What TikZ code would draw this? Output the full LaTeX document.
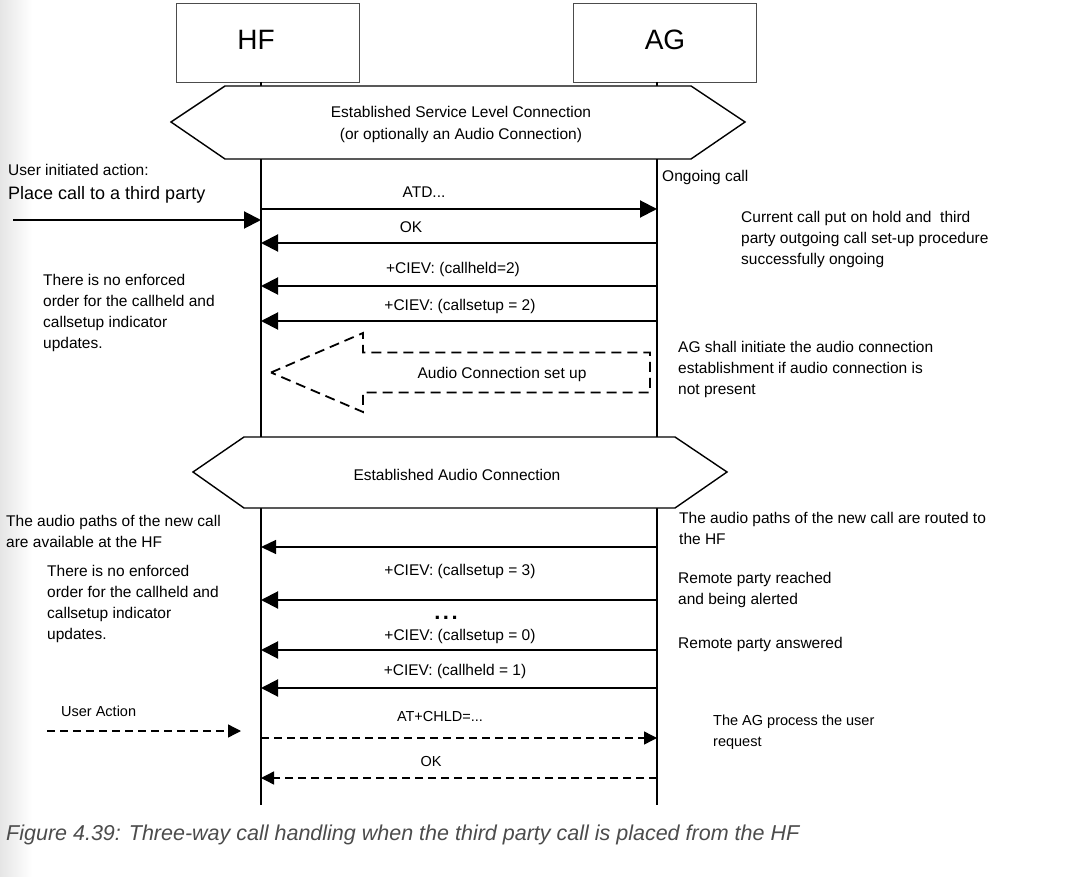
\documentclass[tikz,border=0pt]{standalone}
\usepackage{fontspec}
\setmainfont{Liberation Sans}
\usetikzlibrary{arrows.meta}
\begin{document}
\begin{tikzpicture}[x=1pt,y=-1pt,
  basefont/.style={font=\fontsize{15.5}{21}\selectfont, inner sep=0pt},
  note/.style={basefont, align=left, anchor=north west},
  smallnote/.style={note, font=\fontsize{14.5}{21}\selectfont},
  msglbl/.style={basefont, anchor=base},
  smalllbl/.style={msglbl, font=\fontsize{14.5}{18}\selectfont},
  actorbox/.style={draw=black!70, line width=0.9pt, minimum width=183pt, minimum height=79pt, inner sep=0pt},
  actortxt/.style={font=\fontsize{28}{32}\selectfont, inner sep=0pt, anchor=base},
  life/.style={line width=2.2pt},
  msg/.style={line width=2pt, -{Triangle[length=17pt,width=17pt]}},
  thinmsg/.style={line width=1.3pt, -{Triangle[length=15pt,width=14pt]}},
  dmsg/.style={line width=1.4pt, dash pattern=on 8pt off 5pt, -{Triangle[length=13pt,width=13pt]}},
  hexa/.style={draw, line width=1.4pt, fill=white, line join=miter},
  blockarrow/.style={line width=1.8pt, dash pattern=on 10pt off 6pt},
]
\useasboundingbox (0,0) rectangle (1087,877);
\fill[white] (0,0) rectangle (1087,877);
\shade[left color=black!10, right color=white] (0,0) rectangle (32,877);

% actors
\node[actorbox] (hfbox) at (267.5,42.5) {};
\node[actorbox] (agbox) at (664.5,42.5) {};
\node[actortxt] (hft) at (256,50) {HF};
\node[actortxt] (agt) at (665,50) {AG};

% lifelines
\coordinate (hfT) at (261,82);
\coordinate (hfB) at (261,805);
\coordinate (agT) at (657,82);
\coordinate (agB) at (657,805);
\draw[life] (hfT) -- (hfB);
\draw[life] (agT) -- (agB);

% hexagon 1
\coordinate (x1a) at (171,122);
\coordinate (x1b) at (225,86);
\coordinate (x1c) at (691,86);
\coordinate (x1d) at (745,122);
\coordinate (x1e) at (691,159);
\coordinate (x1f) at (225,159);
\draw[hexa] (x1a) -- (x1b) -- (x1c) -- (x1d) -- (x1e) -- (x1f) -- cycle;
\node[msglbl] (slc1) at (461,117.5) {Established Service Level Connection};
\node[msglbl] (slc2) at (461,139.5) {(or optionally an Audio Connection)};

% hexagon 2
\coordinate (x2a) at (193,472);
\coordinate (x2b) at (244,437);
\coordinate (x2c) at (675,437);
\coordinate (x2d) at (727,472);
\coordinate (x2e) at (675,508);
\coordinate (x2f) at (244,508);
\draw[hexa] (x2a) -- (x2b) -- (x2c) -- (x2d) -- (x2e) -- (x2f) -- cycle;
\node[msglbl] (eac) at (457,480.5) {Established Audio Connection};

% section 1 notes
\node[note] (ui) at (8,164.5) {User initiated action:};
\node[note, font=\fontsize{18}{22}\selectfont] (place) at (8,186.5) {Place call to a third party};
\node[note] (order1) at (43,274.5) {There is no enforced\\order for the callheld and\\callsetup indicator\\updates.};
\node[note] (ongoing) at (662,170.5) {Ongoing call};
\node[note] (hold) at (741,211.5) {Current call put on hold and~~third\\party outgoing call set-up procedure\\successfully ongoing};
\node[note] (agshall) at (678,341.5) {AG shall initiate the audio connection\\establishment if audio connection is\\not present};

% section 1 messages
\coordinate (in0) at (13,220);
\coordinate (hin) at (261,220);
\draw[msg] (in0) -- (hin);

\coordinate (h1) at (261,209); \coordinate (a1) at (657,209);
\node[msglbl] (l1) at (424,197.5) {ATD...};
\draw[msg] (h1) -- (a1);

\coordinate (h2) at (261,243); \coordinate (a2) at (657,243);
\node[msglbl] (l2) at (411,232.5) {OK};
\draw[msg] (a2) -- (h2);

\coordinate (h3) at (261,286); \coordinate (a3) at (657,286);
\node[msglbl] (l3) at (453,273.5) {+CIEV: (callheld=2)};
\draw[msg] (a3) -- (h3);

\coordinate (h4) at (261,321); \coordinate (a4) at (657,321);
\node[msglbl] (l4) at (460,310.5) {+CIEV: (callsetup = 2)};
\draw[msg] (a4) -- (h4);

% audio connection block arrow
\coordinate (ba1) at (271,372.5);
\coordinate (ba2) at (363,333);
\coordinate (ba3) at (363,352.5);
\coordinate (ba4) at (650,352.5);
\coordinate (ba5) at (650,392.5);
\coordinate (ba6) at (363,392.5);
\coordinate (ba7) at (363,412);
\draw[blockarrow] (ba1) -- (ba2) -- (ba3) -- (ba4) -- (ba5) -- (ba6) -- (ba7) -- cycle;
\node[msglbl] (acs) at (502,378.5) {Audio Connection set up};

% section 2 notes
\node[note] (paths) at (6,515) {The audio paths of the new call\\are available at the HF};
\node[note] (order2) at (47,565) {There is no enforced\\order for the callheld and\\callsetup indicator\\updates.};
\node[note] (routed) at (679,512) {The audio paths of the new call are routed to\\the HF};
\node[note] (reached) at (678,572) {Remote party reached\\and being alerted};
\node[note] (answered) at (678,637) {Remote party answered};

% section 2 messages
\coordinate (h5) at (261,547); \coordinate (a5) at (657,547);
\draw[thinmsg] (a5) -- (h5);

\coordinate (h6) at (261,600); \coordinate (a6) at (657,600);
\node[msglbl] (l6) at (460,575.5) {+CIEV: (callsetup = 3)};
\draw[msg] (a6) -- (h6);

\node[anchor=base, inner sep=0pt, font=\fontsize{22}{24}\selectfont\bfseries] (dots) at (446,619) {.\hspace{2.5pt}.\hspace{2.5pt}.};

\coordinate (h7) at (261,650); \coordinate (a7) at (657,650);
\node[msglbl] (l7) at (460,640.5) {+CIEV: (callsetup = 0)};
\draw[msg] (a7) -- (h7);

\coordinate (h8) at (261,688); \coordinate (a8) at (657,688);
\node[msglbl] (l8) at (455,675.5) {+CIEV: (callheld = 1)};
\draw[msg] (a8) -- (h8);

% section 3
\node[smallnote] (ua) at (61,706) {User Action};
\coordinate (ua0) at (47,731); \coordinate (ua1) at (241,731);
\draw[dmsg] (ua0) -- (ua1);

\coordinate (h9) at (261,738); \coordinate (a9) at (657,738);
\node[smalllbl] (l9) at (440,721) {AT+CHLD=...};
\draw[dmsg] (h9) -- (a9);

\coordinate (h10) at (261,778); \coordinate (a10) at (657,778);
\node[smalllbl] (l10) at (431,766) {OK};
\draw[dmsg] (a10) -- (h10);

\node[smallnote] (agp) at (713,715) {The AG process the user\\request};

% caption
\node[anchor=base west, inner sep=0pt, text=black!70, font=\fontsize{21.5}{24}\selectfont\itshape] (cap) at (6,840.5) {Figure 4.39: Three-way call handling when the third party call is placed from the HF};
\end{tikzpicture}
\end{document}
